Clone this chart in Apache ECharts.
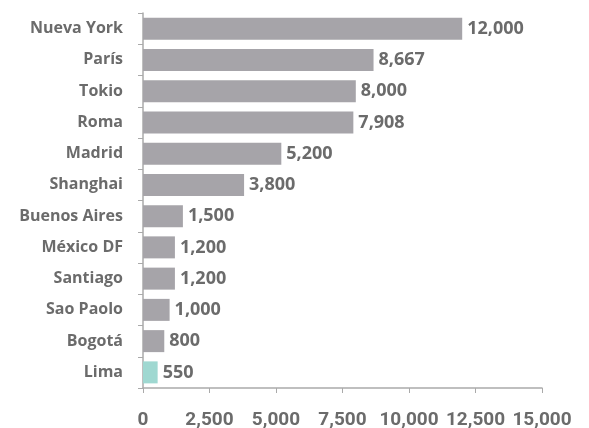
<!DOCTYPE html>
<html>
<head>
<meta charset="utf-8">
<script src="https://cdn.jsdelivr.net/npm/echarts@6/dist/echarts.min.js"></script>
<style>
  html, body { margin: 0; padding: 0; background: #fff; }
  #main { width: 589px; height: 428px; }
</style>
</head>
<body>
<div id="main"></div>
<script>
// datos (de arriba hacia abajo)
var cities = ['Nueva York', 'París', 'Tokio', 'Roma', 'Madrid', 'Shanghai', 'Buenos Aires', 'México DF', 'Santiago', 'Sao Paolo', 'Bogotá', 'Lima'];
var values = [12000, 8667, 8000, 7908, 5200, 3800, 1500, 1200, 1200, 1000, 800, 550];
var highlight = 'Lima';

var grey = '#a6a4a9';
var teal = '#9fd8d1';
var txt = '#6b6b6b';

var chart = echarts.init(document.getElementById('main'));

var option = {
  animation: false,
  grid: { left: 143, right: 47, top: 13, bottom: 40, outerBoundsMode: 'none' },
  xAxis: {
    type: 'value',
    min: 0,
    max: 15000,
    interval: 2500,
    axisLine: { show: true, lineStyle: { color: '#aaaaaa', width: 1.5 } },
    axisTick: { show: true, length: 5, lineStyle: { color: '#aaaaaa' } },
    splitLine: { show: false },
    axisLabel: {
      color: txt, fontSize: 19, fontWeight: 'bold', fontFamily: 'Roboto', margin: 23,
      formatter: function (v) { return v.toLocaleString('en-US'); }
    }
  },
  yAxis: {
    type: 'category',
    inverse: true,
    data: cities,
    axisLine: { show: true, lineStyle: { color: '#aaaaaa', width: 1.5 } },
    axisTick: { show: true, length: 5, lineStyle: { color: '#aaaaaa' } },
    axisLabel: { color: txt, fontSize: 16, fontWeight: 'bold', fontFamily: 'Open Sans', margin: 20 }
  },
  series: [{
    type: 'bar',
    barWidth: 22,
    data: values.map(function (v, i) {
      return { value: v, itemStyle: { color: cities[i] === highlight ? teal : grey } };
    }),
    label: {
      show: true,
      position: 'right',
      distance: 5,
      color: txt,
      fontSize: 18,
      fontWeight: 'bold',
      fontFamily: 'Open Sans',
      formatter: function (p) { return p.value.toLocaleString('en-US'); }
    }
  }]
};

chart.setOption(option);
</script>
</body>
</html>
